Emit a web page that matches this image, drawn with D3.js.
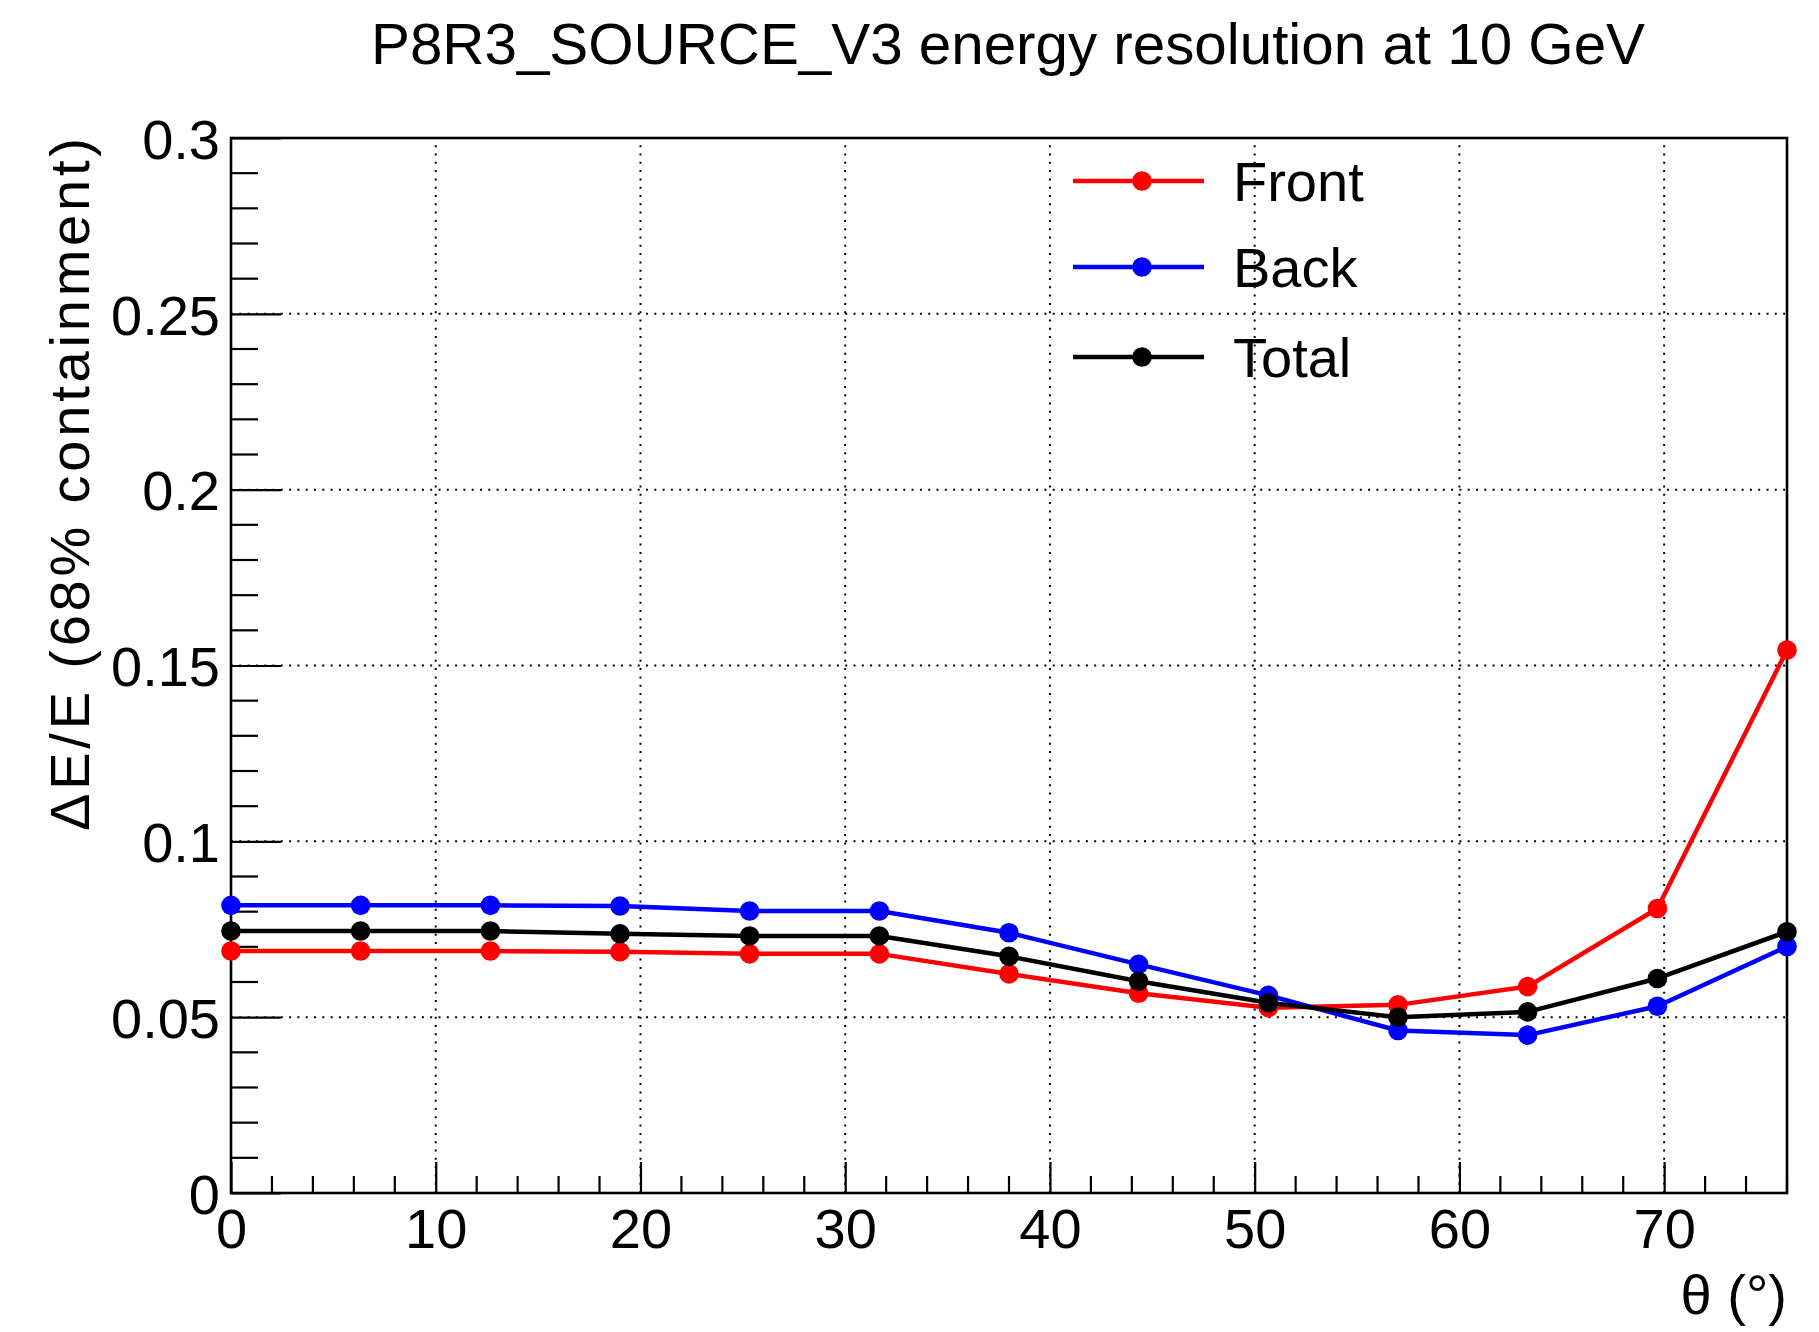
<!DOCTYPE html>
<html>
<head>
<meta charset="utf-8">
<script src="https://cdn.jsdelivr.net/npm/d3@7"></script>
<style>
  html, body { margin: 0; padding: 0; background: #fff; }
  svg { display: block; }
  text { font-family: "Liberation Sans", Arial, Helvetica, sans-serif; fill: #000; }
</style>
</head>
<body>
<svg id="chart" width="1819" height="1332"></svg>
<script>
// Inclination angle bins (degrees)
const theta = [0, 6.33, 12.67, 19, 25.33, 31.67, 38, 44.33, 50.67, 57, 63.33, 69.67, 76];

// Energy resolution, 68% containment, at 10 GeV
const front = [0.0688, 0.0688, 0.0688, 0.0686, 0.0680, 0.0680, 0.0623, 0.0568, 0.0527, 0.0535, 0.0587, 0.0809, 0.1544];
const back  = [0.0818, 0.0818, 0.0818, 0.0816, 0.0802, 0.0802, 0.0740, 0.0650, 0.0562, 0.0462, 0.0449, 0.0531, 0.0701];
const total = [0.0745, 0.0745, 0.0745, 0.0737, 0.0731, 0.0731, 0.0673, 0.0602, 0.0541, 0.0500, 0.0515, 0.0610, 0.0743];

const seriesNames = ["Front", "Back", "Total"];
const seriesColors = ["#ff0000", "#0000ff", "#000000"];

const xTicks = [0, 10, 20, 30, 40, 50, 60, 70];
const yTicks = [0, 0.05, 0.1, 0.15, 0.2, 0.25, 0.3];
const yTickLabels = ["0", "0.05", "0.1", "0.15", "0.2", "0.25", "0.3"];

const titleText = "P8R3_SOURCE_V3 energy resolution at 10 GeV";
const xTitle = "\u03b8 (\u00b0)";
const yTitle = "\u0394E/E (68% containment)";

// Frame geometry
const L = 231, R = 1787, T = 138, B = 1193;
const FS = 56;

const svg = d3.select("#chart");
const x = d3.scaleLinear().domain([0, 76]).range([L, R]);
const y = d3.scaleLinear().domain([0, 0.3]).range([B, T]);

// Dotted grid at the major ticks
const grid = svg.append("g").attr("stroke", "#000").attr("stroke-width", 2)
  .attr("stroke-dasharray", "2,6.3");
grid.selectAll("line.gx").data(xTicks.filter(d => d > 0)).join("line")
  .attr("x1", d => x(d)).attr("x2", d => x(d)).attr("y1", B).attr("y2", T);
grid.selectAll("line.gy").data(yTicks.filter(d => d > 0 && d < 0.3)).join("line")
  .attr("x1", L).attr("x2", R).attr("y1", d => y(d)).attr("y2", d => y(d));

// Axes: major and minor ticks pointing into the frame
const xAxis = d3.axisBottom(x).tickValues(xTicks).tickSize(-31).tickSizeOuter(0)
  .tickFormat(d3.format("d")).tickPadding(12);
const gx = svg.append("g").attr("transform", `translate(0,${B})`).call(xAxis);
gx.select(".domain").remove();
gx.selectAll(".tick line").attr("stroke", "#000").attr("stroke-width", 2.2);
gx.selectAll(".tick text").attr("font-size", FS).attr("font-family", "Liberation Sans, Arial, sans-serif")
  .attr("y", 0).attr("dy", 0).attr("transform", "translate(0,55)");

const xMinor = d3.range(0, 77, 2).filter(d => d % 10 !== 0);
svg.append("g").selectAll("line").data(xMinor).join("line")
  .attr("x1", d => x(d)).attr("x2", d => x(d)).attr("y1", B).attr("y2", B - 17)
  .attr("stroke", "#000").attr("stroke-width", 2.2);

const yAxis = d3.axisLeft(y).tickValues(yTicks).tickSize(-50).tickSizeOuter(0)
  .tickFormat((d, i) => yTickLabels[i]).tickPadding(12);
const gy = svg.append("g").attr("transform", `translate(${L},0)`).call(yAxis);
gy.select(".domain").remove();
gy.selectAll(".tick line").attr("stroke", "#000").attr("stroke-width", 2.2);
gy.selectAll(".tick text").attr("font-size", FS).attr("font-family", "Liberation Sans, Arial, sans-serif")
  .attr("x", -11).attr("dy", "0.36em");

const yMinor = d3.range(1, 30).map(d => d / 100).filter((d, i) => (i + 1) % 5 !== 0);
svg.append("g").selectAll("line").data(yMinor).join("line")
  .attr("x1", L).attr("x2", L + 27).attr("y1", d => y(d)).attr("y2", d => y(d))
  .attr("stroke", "#000").attr("stroke-width", 2.2);

// Frame
svg.append("rect").attr("x", L).attr("y", T).attr("width", R - L).attr("height", B - T)
  .attr("fill", "none").attr("stroke", "#000").attr("stroke-width", 2.6);

// Series lines and markers
const allSeries = [front, back, total];
const line = d3.line().x((d, i) => x(theta[i])).y(d => y(d));
allSeries.forEach((vals, s) => {
  const g = svg.append("g");
  g.append("path").datum(vals).attr("d", line).attr("fill", "none")
    .attr("stroke", seriesColors[s]).attr("stroke-width", 4.5).attr("stroke-linejoin", "round");
  g.selectAll("circle").data(vals).join("circle")
    .attr("cx", (d, i) => x(theta[i])).attr("cy", d => y(d)).attr("r", 9.8)
    .attr("fill", seriesColors[s]);
});

// Legend (no box)
const legY = [181, 267, 357];
const leg = svg.append("g");
seriesNames.forEach((name, s) => {
  leg.append("line").attr("x1", 1073).attr("x2", 1204).attr("y1", legY[s]).attr("y2", legY[s])
    .attr("stroke", seriesColors[s]).attr("stroke-width", 4.5);
  leg.append("circle").attr("cx", 1142).attr("cy", legY[s]).attr("r", 9.8).attr("fill", seriesColors[s]);
  leg.append("text").attr("x", 1233).attr("y", legY[s] + 20).attr("font-size", FS).text(name);
});

// Titles
svg.append("text").attr("x", 371).attr("y", 64)
  .attr("font-size", 57).attr("textLength", 1274).attr("lengthAdjust", "spacingAndGlyphs")
  .text(titleText);
svg.append("text").attr("x", R).attr("y", 1314).attr("text-anchor", "end")
  .attr("font-size", FS).text(xTitle);
svg.append("text").attr("transform", `translate(89,${T + 693}) rotate(-90)`)
  .attr("font-size", FS).attr("textLength", 693).attr("lengthAdjust", "spacing")
  .text(yTitle);
</script>
</body>
</html>
